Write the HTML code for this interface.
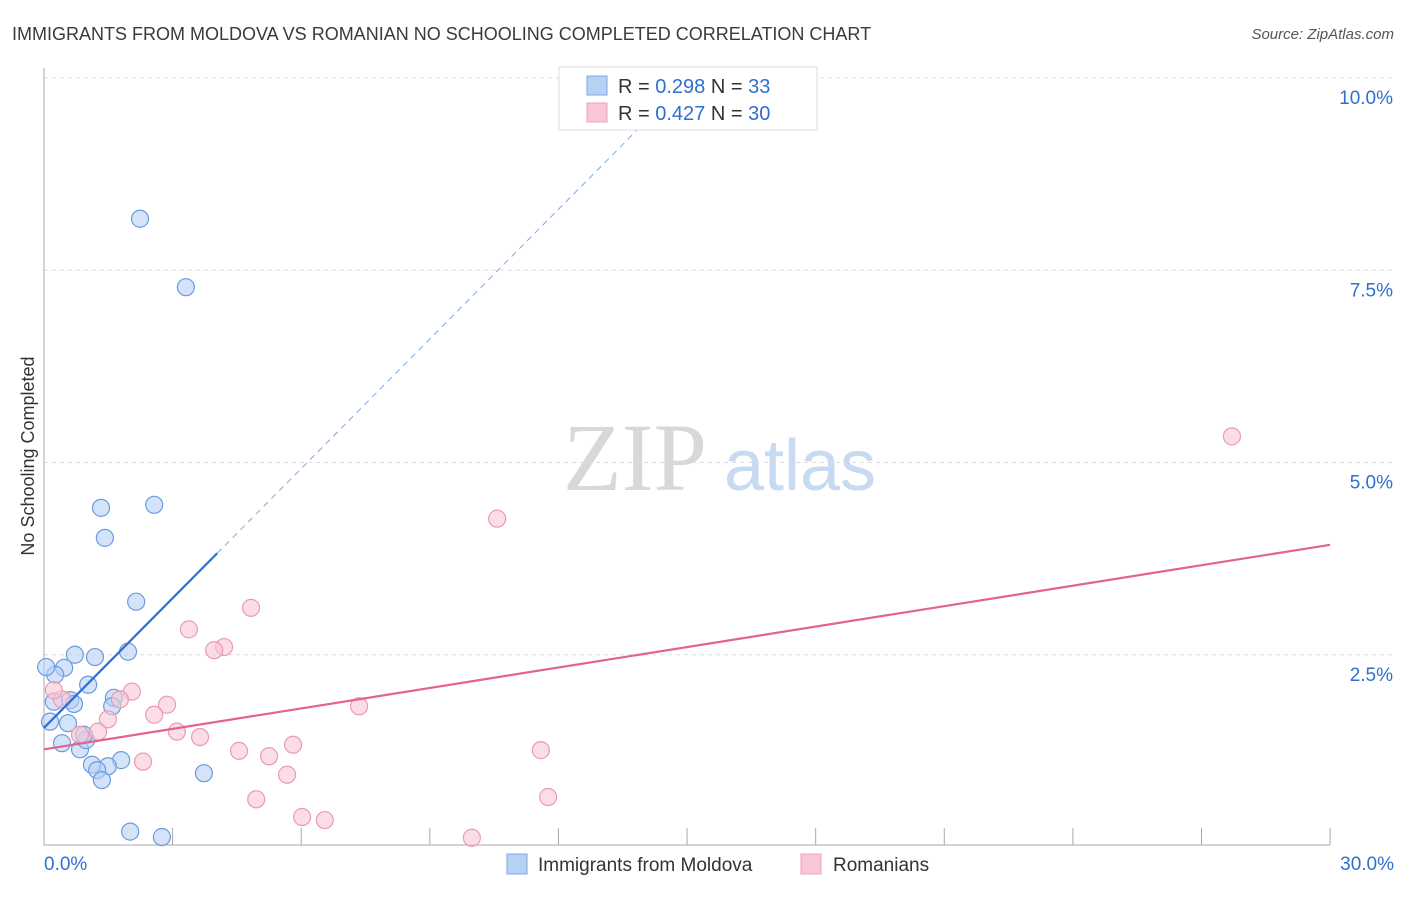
<!DOCTYPE html>
<html><head><meta charset="utf-8"><style>
body{margin:0;background:#fff;font-family:"Liberation Sans",sans-serif;}
</style></head><body>
<svg id="chart" width="1406" height="892" xmlns="http://www.w3.org/2000/svg" style="font-family:'Liberation Sans',sans-serif">
<text x="12" y="40" font-size="18" fill="#3a3a3a">IMMIGRANTS FROM MOLDOVA VS ROMANIAN NO SCHOOLING COMPLETED CORRELATION CHART</text>
<text x="1394" y="39" font-size="15" fill="#555" text-anchor="end" font-style="italic">Source: ZipAtlas.com</text>
<text transform="translate(34,456) rotate(-90)" font-size="18" fill="#333" text-anchor="middle">No Schooling Completed</text>
<g>
<text x="635" y="490" font-size="96" fill="#d8d8d8" text-anchor="middle" font-family="Liberation Serif,serif">ZIP</text>
<text x="800" y="490" font-size="72" fill="#c8daf2" text-anchor="middle">atlas</text></g>
<g id="grid"></g><g id="axes"></g><g id="marks"></g>
<g>
<rect x="559" y="67" width="258" height="63" fill="#fff" stroke="#ddd"/>
<rect x="587" y="76" width="20" height="19" fill="#b7d1f3" stroke="#7fa8e0"/>
<rect x="587" y="103" width="20" height="19" fill="#f8c6d5" stroke="#eea3ba"/>
<text x="618" y="93" font-size="20" fill="#333">R = <tspan fill="#2f6fd0">0.298</tspan>   N = <tspan fill="#2f6fd0">33</tspan></text>
<text x="618" y="120" font-size="20" fill="#333">R = <tspan fill="#2f6fd0">0.427</tspan>   N = <tspan fill="#2f6fd0">30</tspan></text>
</g>
<g>
<rect x="507" y="854" width="20" height="20" fill="#b7d1f3" stroke="#7fa8e0"/>
<text x="538" y="871" font-size="19" fill="#333">Immigrants from Moldova</text>
<rect x="801" y="854" width="20" height="20" fill="#f8c6d5" stroke="#eea3ba"/>
<text x="833" y="871" font-size="19" fill="#333">Romanians</text>
</g>
</svg>
<script>
const blueX=[2.24,3.31,1.33,2.57,1.42,2.15,1.96,1.19,0.72,0.47,0.26,0.05,1.03,1.63,1.59,0.61,0.70,0.23,0.14,0.56,0.42,0.84,0.98,0.93,1.80,1.49,1.12,1.24,1.35,3.73,2.01,2.75];
const blueY=[8.17,7.28,4.41,4.45,4.02,3.19,2.54,2.47,2.50,2.33,2.24,2.34,2.11,1.94,1.83,1.91,1.86,1.89,1.63,1.61,1.35,1.27,1.39,1.46,1.13,1.05,1.07,1.00,0.87,0.96,0.20,0.13];
const pinkX=[27.71,10.57,4.83,3.38,4.20,3.97,2.05,2.87,7.35,1.77,0.42,0.23,2.57,1.49,1.26,3.10,3.64,4.55,5.81,5.25,11.59,2.31,5.67,4.95,11.76,6.02,6.55,9.98,0.84];
const pinkY=[5.34,4.27,3.11,2.83,2.60,2.56,2.02,1.85,1.83,1.92,1.92,2.04,1.72,1.66,1.50,1.50,1.43,1.25,1.33,1.18,1.26,1.11,0.94,0.62,0.65,0.39,0.35,0.12,1.46];
const yTicks=[2.5,5.0,7.5,10.0];
const yTickLabels=["2.5%","5.0%","7.5%","10.0%"];
const xTicks=[0,3,6,9,12,15,18,21,24,27,30];
const blueTrend=[1.55,3.82]; // y at x=0 and x=4.04
const blueTrendX=[0,4.04,13.9];
const pinkTrend=[1.27,3.93];
const sx=v=>44+v*42.87, sy=v=>847-v*76.9;
const NS="http://www.w3.org/2000/svg";
function mk(parent,tag,attrs,name){const e=document.createElementNS(NS,tag);for(const k in attrs)e.setAttribute(k,attrs[k]);


document.getElementById(parent).appendChild(e);return e;}
yTicks.forEach((t,i)=>{mk('grid','line',{x1:44,x2:1394,y1:sy(t),y2:sy(t),stroke:'#ddd','stroke-dasharray':'4,4'},'gridline');
const tx=mk('axes','text',{x:1393,y:sy(t)+26,'font-size':19,fill:'#2f6fd0','text-anchor':'end'},'y-tick-label');tx.textContent=yTickLabels[i];});
mk('axes','line',{x1:44,x2:44,y1:68,y2:845,stroke:'#aaa'},'y-axis');
mk('axes','line',{x1:44,x2:1330,y1:845,y2:845,stroke:'#aaa'},'x-axis');
xTicks.slice(1).forEach(t=>mk('axes','line',{x1:sx(t),x2:sx(t),y1:828,y2:845,stroke:'#aaa'},'x-tick'));
let a=mk('axes','text',{x:44,y:870,'font-size':19,fill:'#2f6fd0'},'x-tick-label');a.textContent='0.0%';
a=mk('axes','text',{x:1394,y:870,'font-size':19,fill:'#2f6fd0','text-anchor':'end'},'x-tick-label');a.textContent='30.0%';
blueX.forEach((x,i)=>mk('marks','circle',{cx:sx(x),cy:sy(blueY[i]),r:8.5,fill:'#b7d1f3','fill-opacity':0.6,stroke:'#6a9be0','stroke-width':1.2},'moldova-point'));
pinkX.forEach((x,i)=>mk('marks','circle',{cx:sx(x),cy:sy(pinkY[i]),r:8.5,fill:'#f8c6d5','fill-opacity':0.6,stroke:'#ea9bb3','stroke-width':1.2},'romanian-point'));
const bs=(blueTrend[1]-blueTrend[0])/blueTrendX[1];
mk('marks','line',{x1:sx(0),y1:sy(blueTrend[0]),x2:sx(blueTrendX[1]),y2:sy(blueTrend[1]),stroke:'#2a6fd6','stroke-width':2.2},'moldova-trend-line');
mk('marks','line',{x1:sx(blueTrendX[1]),y1:sy(blueTrend[1]),x2:sx(blueTrendX[2]),y2:sy(blueTrend[0]+bs*blueTrendX[2]),stroke:'#7fa8e0','stroke-width':1,'stroke-dasharray':'6,5'},'moldova-trend-extension');
mk('marks','line',{x1:sx(0),y1:sy(pinkTrend[0]),x2:sx(30),y2:sy(pinkTrend[1]),stroke:'#e2648e','stroke-width':2.2},'romanian-trend-line');
</script>
</body></html>
